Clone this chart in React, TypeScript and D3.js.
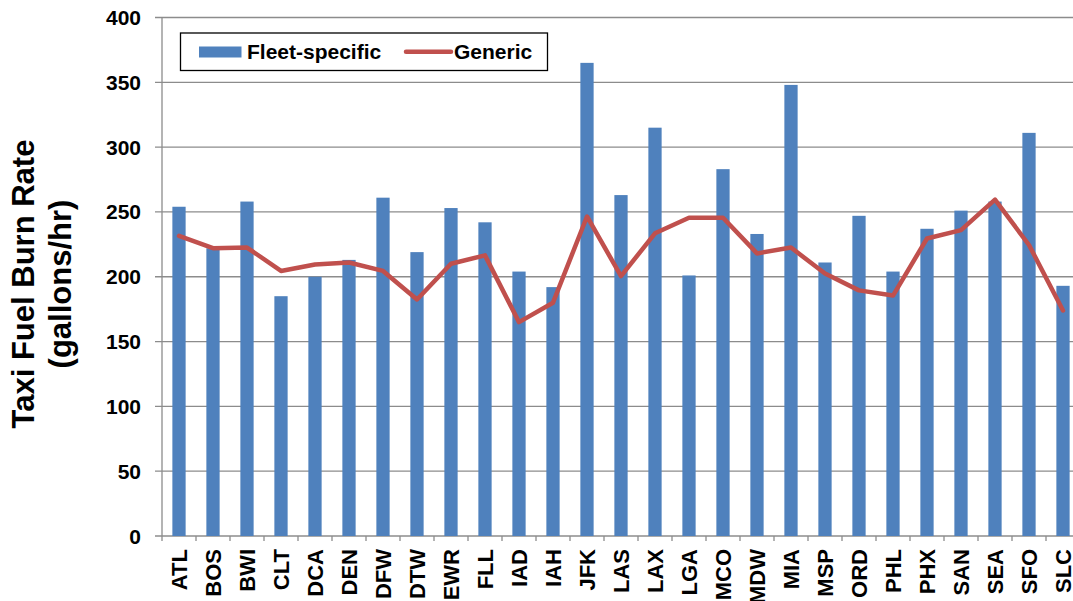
import React from "react";
import * as d3 from "d3";

const categories = ["ATL","BOS","BWI","CLT","DCA","DEN","DFW","DTW","EWR","FLL","IAD","IAH","JFK","LAS","LAX","LGA","MCO","MDW","MIA","MSP","ORD","PHL","PHX","SAN","SEA","SFO","SLC"];
const fleetSpecific = [254,222,258,185,200,213,261,219,253,242,204,192,365,263,315,201,283,233,348,211,247,204,237,251,258,311,193];
const generic = [231.5,222,222.5,204.5,209.5,211,204.5,182.5,210,216.5,165,180,246.5,200.5,233.5,245.5,245.5,218,222.5,202.5,189.5,185.5,229.5,236,259.5,224.5,174];
const yTicks = [0,50,100,150,200,250,300,350,400];

const W = 1073, H = 601;
const left = 162, top = 17.5, bottom = 536;
const band = 34;
const FONT = "Arial, 'Liberation Sans', sans-serif";

export default function App() {
  const x = d3.scaleBand<string>().domain(categories).range([left, left + band * categories.length]).paddingInner(0.61).paddingOuter(0.305);
  const y = d3.scaleLinear().domain([0, 400]).range([bottom, top]);
  const cx = (c: string) => (x(c) as number) + x.bandwidth() / 2;
  const line = d3.line<number>().x((_, i) => cx(categories[i])).y(d => y(d));
  const grid = "#8c8c8c";
  const boundaries = d3.range(categories.length + 1).map(i => left + i * band);
  return (
    <svg width={W} height={H} style={{ position: "absolute", left: 0, top: 0, background: "#fff" }} fontFamily={FONT}>
      {yTicks.map(t => (
        <g key={t}>
          <line x1={155} x2={W} y1={y(t)} y2={y(t)} stroke={grid} strokeWidth={1.3} />
          <text x={141} y={y(t)} dy="0.36em" textAnchor="end" fontSize={21} fontWeight="bold" fill="#000">{t}</text>
        </g>
      ))}
      <line x1={left} x2={left} y1={top} y2={bottom} stroke={grid} strokeWidth={1.3} />
      {boundaries.map((b, i) => (
        <line key={i} x1={b} x2={b} y1={bottom} y2={541} stroke={grid} strokeWidth={1.3} />
      ))}
      {categories.map((c, i) => (
        <rect key={c} x={x(c)} y={y(fleetSpecific[i])} width={x.bandwidth()} height={bottom - y(fleetSpecific[i])} fill="#4f81bd" />
      ))}
      <path d={line(generic) || ""} fill="none" stroke="#c0504d" strokeWidth={4.5} strokeLinejoin="round" strokeLinecap="round" />
      {categories.map(c => (
        <text key={c} transform={`translate(${cx(c)},549) rotate(-90)`} dy="0.36em" textAnchor="end" fontSize={22} fontWeight="bold" fill="#000">{c}</text>
      ))}
      <text transform="translate(34,284) rotate(-90)" textAnchor="middle" fontSize={31} fontWeight="bold" fill="#000">Taxi Fuel Burn Rate</text>
      <text transform="translate(71,284) rotate(-90)" textAnchor="middle" fontSize={31} fontWeight="bold" fill="#000">(gallons/hr)</text>
      <g>
        <rect x={180.5} y={33} width={367} height={37.5} fill="#fff" stroke="#000" strokeWidth={1.3} />
        <rect x={199} y={46.5} width={42.5} height={11} fill="#4f81bd" />
        <text x={247} y={59} fontSize={21} fontWeight="bold" fill="#000">Fleet-specific</text>
        <line x1={406} x2={451} y1={51.8} y2={51.8} stroke="#c0504d" strokeWidth={4.5} strokeLinecap="round" />
        <text x={454} y={59} fontSize={21} fontWeight="bold" fill="#000">Generic</text>
      </g>
    </svg>
  );
}
